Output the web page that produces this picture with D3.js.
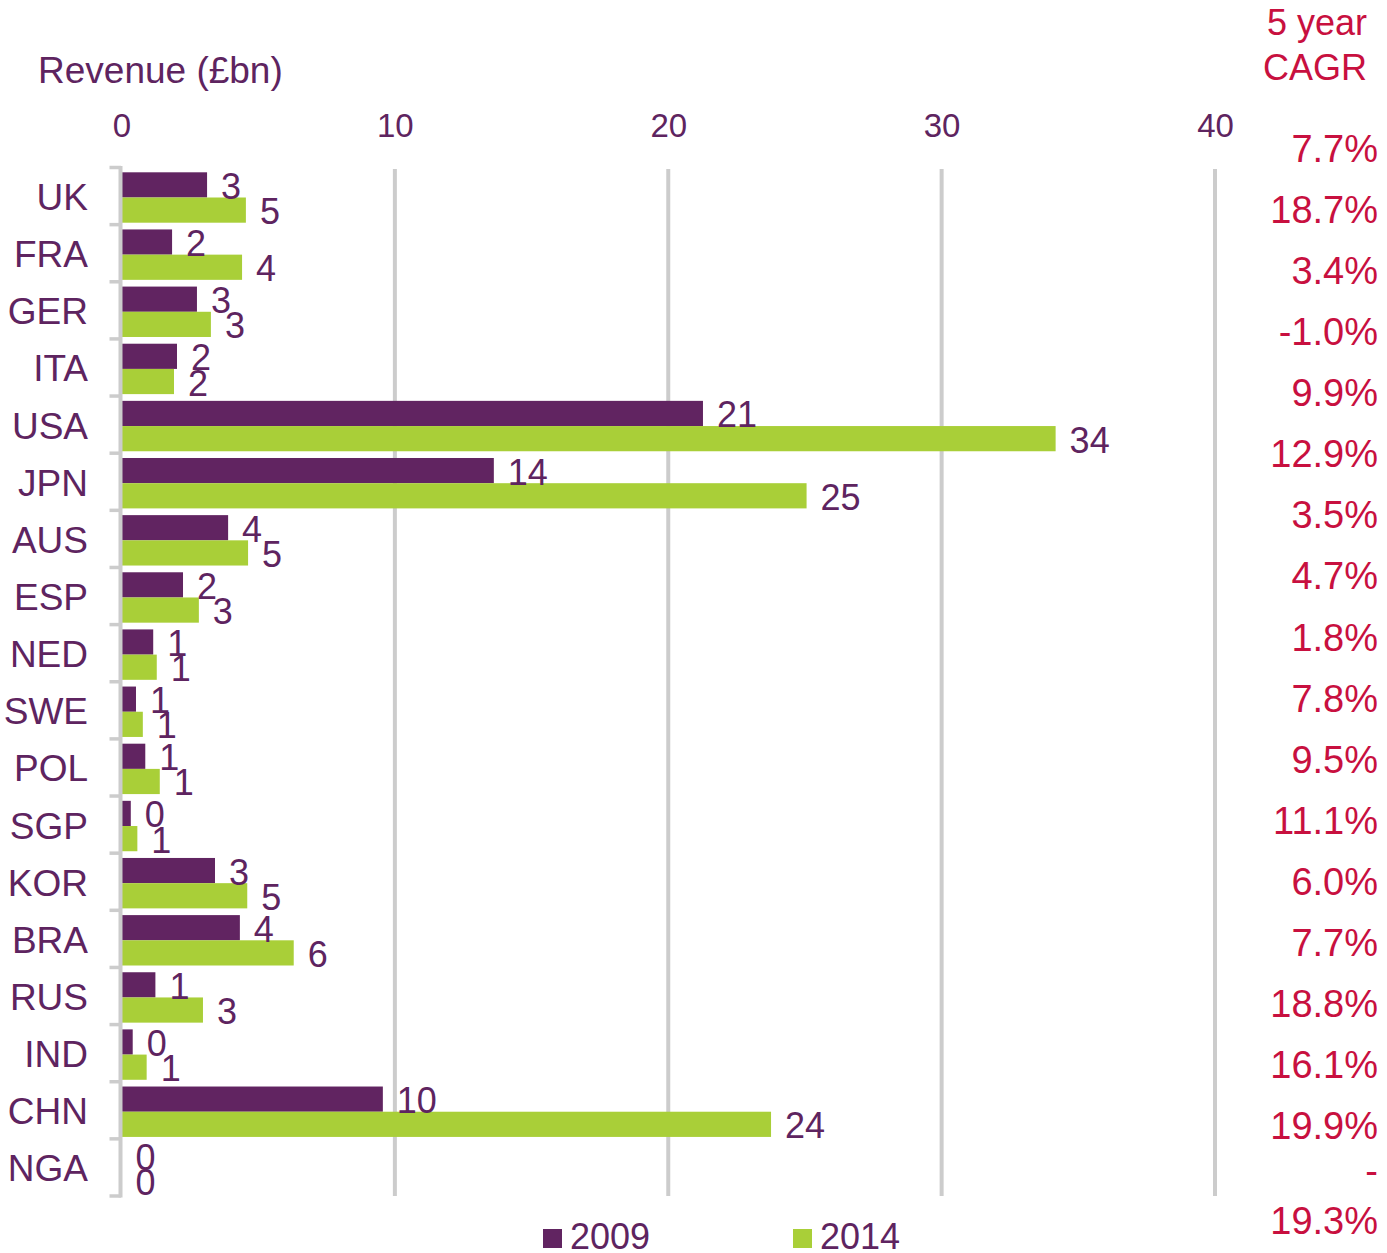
<!DOCTYPE html>
<html>
<head>
<meta charset="utf-8">
<script src="https://cdn.jsdelivr.net/npm/d3@7"></script>
<style>
  html, body { margin: 0; padding: 0; background: #fff; }
  svg { display: block; font-family: "Liberation Sans", Arial, sans-serif; }
</style>
</head>
<body>
<svg id="chart" width="1387" height="1253"></svg>
<script>
// ---- Data ----
const categories = ["UK","FRA","GER","ITA","USA","JPN","AUS","ESP","NED","SWE","POL","SGP","KOR","BRA","RUS","IND","CHN","NGA"];
const series = ["2009", "2014"];
const revenue2009 = [3.13, 1.85, 2.76, 2.03, 21.27, 13.62, 3.90, 2.25, 1.16, 0.53, 0.87, 0.34, 3.42, 4.33, 1.24, 0.41, 9.56, 0];
const revenue2014 = [4.55, 4.41, 3.27, 1.92, 34.17, 25.06, 4.63, 2.83, 1.29, 0.78, 1.40, 0.58, 4.60, 6.30, 2.98, 0.92, 23.76, 0];
const cagrLabels = ["7.7%","18.7%","3.4%","-1.0%","9.9%","12.9%","3.5%","4.7%","1.8%","7.8%","9.5%","11.1%","6.0%","7.7%","18.8%","16.1%","19.9%","-","19.3%"];
const xTicks = [0, 10, 20, 30, 40];
const axisTitle = "Revenue (£bn)";
const cagrTitle = ["5 year", "CAGR"];

// ---- Styles ----
const PURPLE = "#612461";
const GREEN = "#A9CF38";
const TEXT = "#5E2460";
const RED = "#C8103F";
const GRID = "#CCCCCC";
const colors = { "2009": PURPLE, "2014": GREEN };

const svg = d3.select("#chart");

const x = d3.scaleLinear().domain([0, 40]).range([121.5, 1215]);
const y = d3.scaleBand().domain(categories).range([167.5, 1196]);
const ySub = d3.scaleBand().domain(series).range([4.8, 55.2]);

const rows = categories.map((c, i) => ({ cat: c, "2009": revenue2009[i], "2014": revenue2014[i] }));

// gridlines
svg.append("g").selectAll("line")
  .data(xTicks.filter(t => t > 0))
  .join("line")
  .attr("x1", d => x(d)).attr("x2", d => x(d))
  .attr("y1", 169).attr("y2", 1196)
  .attr("stroke", GRID).attr("stroke-width", 4);

// top axis labels
const topAxis = d3.axisTop(x).tickValues(xTicks).tickSize(0).tickPadding(0).tickFormat(d3.format("d"));
const gTop = svg.append("g").attr("transform", "translate(0,137)").call(topAxis);
gTop.select(".domain").remove();
gTop.selectAll("text")
  .attr("fill", TEXT).attr("font-size", 33).attr("dy", 0)
  .style("font-family", '"Liberation Sans", Arial, sans-serif');

// bars
const groups = svg.append("g").selectAll("g")
  .data(rows).join("g")
  .attr("transform", d => `translate(0,${y(d.cat)})`);

groups.selectAll("rect")
  .data(d => series.map(s => ({ s, v: d[s] })))
  .join("rect")
  .attr("x", x(0))
  .attr("y", d => ySub(d.s))
  .attr("width", d => Math.max(0, x(d.v) - x(0)))
  .attr("height", ySub.bandwidth())
  .attr("fill", d => colors[d.s]);

// bar value labels
const fmt = d3.format(".0f");
groups.selectAll("text.val")
  .data(d => series.map(s => ({ s, v: d[s] })))
  .join("text")
  .attr("class", "val")
  .attr("x", d => x(d.v) + 14)
  .attr("y", d => ySub(d.s) + ySub.bandwidth() / 2 + 14)
  .attr("font-size", 36)
  .attr("fill", TEXT)
  .text(d => fmt(d.v));

// category axis line and ticks
svg.append("line")
  .attr("x1", 120.5).attr("x2", 120.5)
  .attr("y1", 166).attr("y2", 1197.5)
  .attr("stroke", GRID).attr("stroke-width", 4);

const boundaries = categories.map(c => y(c)).concat([y.range()[1]]);
svg.append("g").selectAll("line")
  .data(boundaries).join("line")
  .attr("x1", 109.5).attr("x2", 121)
  .attr("y1", d => d).attr("y2", d => d)
  .attr("stroke", GRID).attr("stroke-width", 3.5);

// category labels
svg.append("g").selectAll("text")
  .data(categories).join("text")
  .attr("x", 88)
  .attr("y", d => y(d) + y.bandwidth() / 2 + 14)
  .attr("text-anchor", "end")
  .attr("font-size", 37)
  .attr("fill", TEXT)
  .text(d => d);

// axis title
svg.append("text")
  .attr("x", 38).attr("y", 83)
  .attr("font-size", 37)
  .attr("fill", TEXT)
  .text(axisTitle);

// CAGR header
svg.append("g").selectAll("text")
  .data(cagrTitle).join("text")
  .attr("x", 1367)
  .attr("y", (d, i) => 35 + i * 45)
  .attr("text-anchor", "end")
  .attr("font-size", 36)
  .attr("fill", RED)
  .text(d => d);

// CAGR values
const yC = d3.scaleLinear().domain([0, 16, 17, 18]).range([162, 1139, 1184, 1234]);
svg.append("g").selectAll("text")
  .data(cagrLabels).join("text")
  .attr("x", 1378)
  .attr("y", (d, i) => yC(i))
  .attr("text-anchor", "end")
  .attr("font-size", 38)
  .attr("fill", RED)
  .text(d => d);

// legend
const legend = svg.append("g").selectAll("g")
  .data(series).join("g")
  .attr("transform", (d, i) => `translate(${[543, 793][i]},0)`);
legend.append("rect")
  .attr("x", 0).attr("y", 1229)
  .attr("width", 19).attr("height", 19)
  .attr("fill", d => colors[d]);
legend.append("text")
  .attr("x", 27).attr("y", 1249)
  .attr("font-size", 36)
  .attr("fill", TEXT)
  .text(d => d);
</script>
</body>
</html>
